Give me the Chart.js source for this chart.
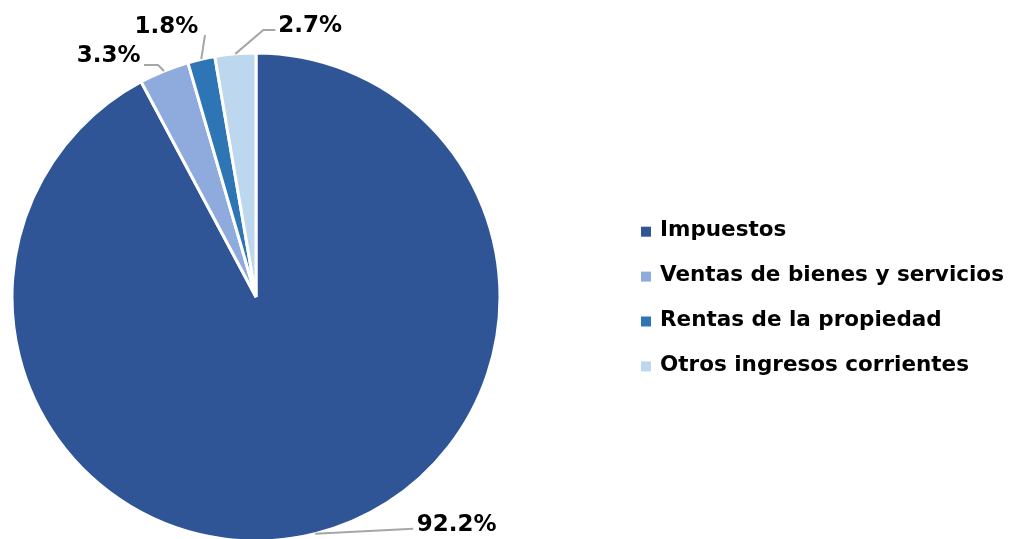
<!DOCTYPE html>
<html><head><meta charset="utf-8">
<script src="https://cdn.jsdelivr.net/npm/chart.js@4.4.1/dist/chart.umd.min.js"></script>
<style>html,body{margin:0;padding:0;background:#fff;overflow:hidden}
#wrap{position:relative;width:1010px;height:539px}</style></head>
<body><div id="wrap"><canvas id="c" width="1010" height="539"></canvas></div>
<script>
const categories = ['Impuestos', 'Ventas de bienes y servicios', 'Rentas de la propiedad', 'Otros ingresos corrientes'];
const shares = [92.2, 3.3, 1.8, 2.7];
const percentLabels = ['92.2%', '3.3%', '1.8%', '2.7%'];
const sliceColors = ['#2F5597', '#8FAADC', '#2E75B6', '#BDD7EE'];

// leader/label placement relative to each slice's outer mid-point (styling only)
const labelPlacement = [
  { leader: [[0, 0], [98, -5]], dx: 101.5, dy: -3, align: 'left' },
  { leader: [[0, 0], [-6, -6], [-20, -6]], dx: -23.4, dy: -9.3, align: 'right' },
  { leader: [[0, 0], [3.7, -24.2]], dx: -3, dy: -25.9, align: 'right' },
  { leader: [[0, 0], [28, -24], [40, -24]], dx: 43, dy: -22.2, align: 'left' }
];

const pieLabels = {
  id: 'pieLabels',
  afterDatasetsDraw(chart) {
    const ctx = chart.ctx;
    const meta = chart.getDatasetMeta(0);
    ctx.save();
    meta.data.forEach((arc, i) => {
      const p = labelPlacement[i];
      const mid = (arc.startAngle + arc.endAngle) / 2;
      const ax = arc.x + Math.cos(mid) * arc.outerRadius;
      const ay = arc.y + Math.sin(mid) * arc.outerRadius;
      ctx.strokeStyle = '#A6A6A6';
      ctx.lineWidth = 2;
      ctx.beginPath();
      p.leader.forEach((pt, k) => {
        if (k === 0) ctx.moveTo(ax + pt[0], ay + pt[1]); else ctx.lineTo(ax + pt[0], ay + pt[1]);
      });
      ctx.stroke();
      ctx.fillStyle = '#000';
      ctx.font = 'bold 23px "DejaVu Sans"';
      ctx.textAlign = p.align;
      ctx.textBaseline = 'alphabetic';
      ctx.fillText(percentLabels[i], ax + p.dx, ay + p.dy);
    });
    ctx.restore();
  }
};

const sideLegend = {
  id: 'sideLegend',
  afterDraw(chart, args, opts) {
    const ctx = chart.ctx;
    const ds = chart.data.datasets[0];
    ctx.save();
    ctx.font = 'bold 21.5px "DejaVu Sans"';
    ctx.textBaseline = 'alphabetic';
    ctx.textAlign = 'left';
    chart.data.labels.forEach((lab, i) => {
      const cy = opts.top + i * opts.step;
      ctx.fillStyle = ds.backgroundColor[i];
      ctx.fillRect(opts.boxX, cy - opts.box / 2, opts.box, opts.box);
      ctx.fillStyle = '#000';
      ctx.fillText(lab, opts.textX, cy + opts.baseShift);
    });
    ctx.restore();
  }
};

new Chart(document.getElementById('c'), {
  type: 'pie',
  data: {
    labels: categories,
    datasets: [{
      data: shares,
      backgroundColor: sliceColors,
      borderColor: '#FFFFFF',
      borderWidth: 3,
      clip: false
    }]
  },
  options: {
    responsive: false,
    animation: false,
    radius: 244,
    layout: { padding: { left: 12, right: 510, top: 55, bottom: 0 } },
    plugins: {
      legend: { display: false },
      tooltip: { enabled: false },
      sideLegend: { boxX: 641, textX: 660, top: 231.7, step: 44.9, box: 10, baseShift: 4.5 }
    }
  },
  plugins: [pieLabels, sideLegend]
});
</script>
</body></html>
